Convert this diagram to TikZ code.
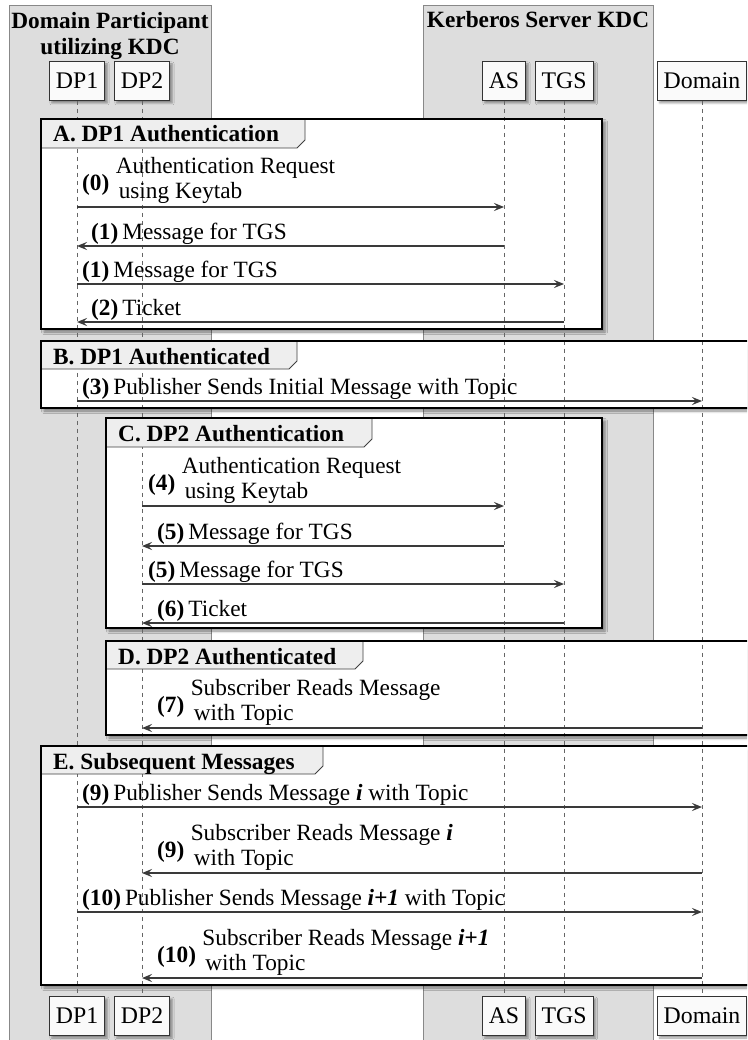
\documentclass[tikz,border=0pt]{standalone}
\usepackage{fontspec}
\setmainfont{Liberation Serif}
\usetikzlibrary{arrows.meta,shadows.blur}
\definecolor{boxgray}{HTML}{DDDDDD}
\definecolor{boxline}{HTML}{888888}
\definecolor{arrowc}{HTML}{3A3A3A}
\definecolor{tabfill}{HTML}{EEEEEE}
\definecolor{partfill}{HTML}{FAFAFA}
\definecolor{lifec}{HTML}{666666}
\tikzset{
  part/.style={draw=black!80, fill=partfill, line width=0.9pt, minimum height=39pt, inner xsep=6.5pt, inner ysep=0pt,
    font=\fontsize{23.8}{26}\selectfont,
    blur shadow={shadow xshift=2.5pt, shadow yshift=-2.5pt, shadow blur radius=2pt, shadow opacity=40}},
  gbox/.style={fill=boxgray, draw=boxline, line width=0.8pt},
  gboxtitle/.style={font=\fontsize{23.3}{25}\selectfont\bfseries, inner sep=0pt, anchor=base},
  framefill/.style={fill=white, blur shadow={shadow xshift=3pt, shadow yshift=-3pt, shadow blur radius=2.5pt, shadow opacity=45}},
  frameline/.style={draw=black, line width=1.8pt},
  tabshape/.style={fill=tabfill, draw=black!75, line width=0.8pt},
  gtitle/.style={font=\fontsize{23.3}{25}\selectfont\bfseries, inner sep=0pt, anchor=base west},
  lifeline/.style={draw=lifec, line width=0.8pt, dash pattern=on 4pt off 4pt},
  msg/.style={draw=arrowc, line width=1.4pt, -{Stealth[length=10pt,width=8pt,inset=4pt]}},
  lbl/.style={inner sep=0pt, anchor=base west},
}
\begin{document}
\begin{tikzpicture}[x=1pt, y=-1pt, font=\fontsize{23.3}{25}\selectfont]
\useasboundingbox (0,0) rectangle (747,1040);
\clip (0,0) rectangle (747,1040);

% participant groups
\path[gbox] (9,5) rectangle (211,1050);
\path[gbox] (423,5) rectangle (653,1050);
\node[gboxtitle] (g1a) at (110,29) {Domain Participant};
\node[gboxtitle] (g1b) at (110,55) {utilizing KDC};
\node[gboxtitle] (g2a) at (538,28) {Kerberos Server KDC};

% frame fills
\path[framefill] (41,119) rectangle (602,329);
\path[framefill] (41,341) rectangle (760,408);
\path[framefill] (106,418) rectangle (602,628);
\path[framefill] (106,641) rectangle (760,735);
\path[framefill] (41,746) rectangle (760,985);

% participants
\node[part] (dp1t) at (77,81) {DP1};
\node[part] (dp2t) at (142,81) {DP2};
\node[part] (ast) at (504,81) {AS};
\node[part] (tgst) at (564,81) {TGS};
\node[part] (domt) at (702,81) {Domain};
\node[part] (dp1b) at (77,1016) {DP1};
\node[part] (dp2b) at (142,1016) {DP2};
\node[part] (asb) at (504,1016) {AS};
\node[part] (tgsb) at (564,1016) {TGS};
\node[part] (domb) at (702,1016) {Domain};

% lifelines
\draw[lifeline] (dp1t) -- (dp1b);
\draw[lifeline] (dp2t) -- (dp2b);
\draw[lifeline] (ast) -- (asb);
\draw[lifeline] (tgst) -- (tgsb);
\draw[lifeline] (domt) -- (domb);

% tabs
\path[tabshape] (41,119) -- (305,119) -- (305,140) -- (297,148) -- (41,148) -- cycle;
\path[tabshape] (41,341) -- (297,341) -- (297,361) -- (289,369) -- (41,369) -- cycle;
\path[tabshape] (106,418) -- (372,418) -- (372,439) -- (364,447) -- (106,447) -- cycle;
\path[tabshape] (106,641) -- (363,641) -- (363,661) -- (355,669) -- (106,669) -- cycle;
\path[tabshape] (41,746) -- (323,746) -- (323,766) -- (315,774) -- (41,774) -- cycle;

% frame borders
\path[frameline] (41,119) rectangle (602,329);
\path[frameline] (41,341) rectangle (760,408);
\path[frameline] (106,418) rectangle (602,628);
\path[frameline] (106,641) rectangle (760,735);
\path[frameline] (41,746) rectangle (760,985);

% frame titles
\node[gtitle] (tA) at (53,142) {A. DP1 Authentication};
\node[gtitle] (tB) at (53,364) {B. DP1 Authenticated};
\node[gtitle] (tC) at (118,441) {C. DP2 Authentication};
\node[gtitle] (tD) at (118,664) {D. DP2 Authenticated};
\node[gtitle] (tE) at (53,769) {E. Subsequent Messages};

% A
\draw[msg] (dp1t |- 0,207) -- (ast |- 0,207);
\node[lbl] (n0) at (82,191) {\textbf{(0)}};
\node[lbl] (l0a) at ([shift={(6,-17)}]n0.base east) {Authentication Request};
\node[lbl] (l0b) at ([shift={(9,8)}]n0.base east) {using Keytab};
\draw[msg] (ast |- 0,246) -- (dp1t |- 0,246);
\node[lbl] (m1) at (91,239.5) {\textbf{(1)}\hspace{4pt}Message for TGS};
\draw[msg] (dp1t |- 0,284) -- (tgst |- 0,284);
\node[lbl] (m1b) at (82,277.5) {\textbf{(1)}\hspace{4pt}Message for TGS};
\draw[msg] (tgst |- 0,322) -- (dp1t |- 0,322);
\node[lbl] (m2) at (91,315.5) {\textbf{(2)}\hspace{4pt}Ticket};

% B
\draw[msg] (dp1t |- 0,401) -- (domt |- 0,401);
\node[lbl] (m3) at (82,394.5) {\textbf{(3)}\hspace{4pt}Publisher Sends Initial Message with Topic};

% C
\draw[msg] (dp2t |- 0,506) -- (ast |- 0,506);
\node[lbl] (n4) at (148,490) {\textbf{(4)}};
\node[lbl] (l4a) at ([shift={(6,-17)}]n4.base east) {Authentication Request};
\node[lbl] (l4b) at ([shift={(9,8)}]n4.base east) {using Keytab};
\draw[msg] (ast |- 0,546) -- (dp2t |- 0,546);
\node[lbl] (m5) at (157,539.5) {\textbf{(5)}\hspace{4pt}Message for TGS};
\draw[msg] (dp2t |- 0,584) -- (tgst |- 0,584);
\node[lbl] (m5b) at (148,577.5) {\textbf{(5)}\hspace{4pt}Message for TGS};
\draw[msg] (tgst |- 0,623) -- (dp2t |- 0,623);
\node[lbl] (m6) at (157,616.5) {\textbf{(6)}\hspace{4pt}Ticket};

% D
\draw[msg] (domt |- 0,728) -- (dp2t |- 0,728);
\node[lbl] (n7) at (157,712) {\textbf{(7)}};
\node[lbl] (l7a) at ([shift={(6,-17)}]n7.base east) {Subscriber Reads Message};
\node[lbl] (l7b) at ([shift={(9,8)}]n7.base east) {with Topic};

% E
\draw[msg] (dp1t |- 0,807) -- (domt |- 0,807);
\node[lbl] (m9) at (82,800.5) {\textbf{(9)}\hspace{4pt}Publisher Sends Message \textbf{\textit{i}} with Topic};
\draw[msg] (domt |- 0,873) -- (dp2t |- 0,873);
\node[lbl] (n9b) at (157,857) {\textbf{(9)}};
\node[lbl] (l9a) at ([shift={(6,-17)}]n9b.base east) {Subscriber Reads Message \textbf{\textit{i}}};
\node[lbl] (l9b) at ([shift={(9,8)}]n9b.base east) {with Topic};
\draw[msg] (dp1t |- 0,912) -- (domt |- 0,912);
\node[lbl] (m10) at (82,905.5) {\textbf{(10)}\hspace{4pt}Publisher Sends Message \textbf{\textit{i+1}} with Topic};
\draw[msg] (domt |- 0,978) -- (dp2t |- 0,978);
\node[lbl] (n10b) at (157,962) {\textbf{(10)}};
\node[lbl] (l10a) at ([shift={(6,-17)}]n10b.base east) {Subscriber Reads Message \textbf{\textit{i+1}}};
\node[lbl] (l10b) at ([shift={(9,8)}]n10b.base east) {with Topic};
\end{tikzpicture}
\end{document}
